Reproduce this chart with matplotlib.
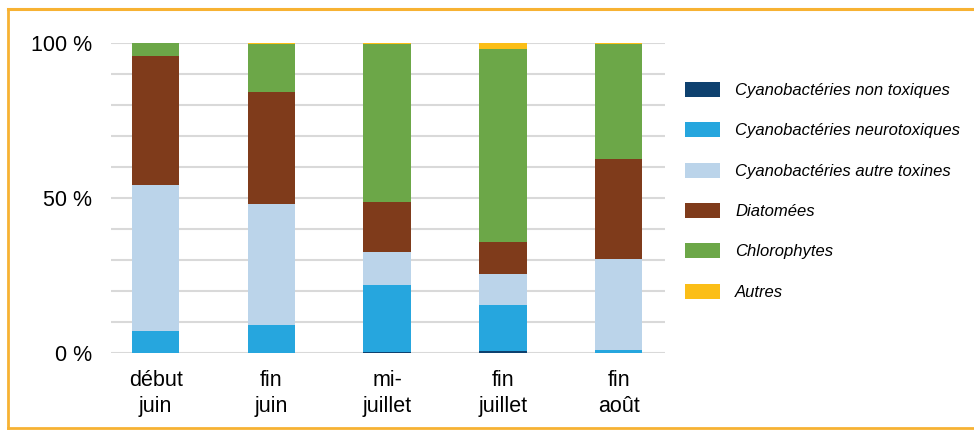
import matplotlib
matplotlib.use("Agg")
import matplotlib.pyplot as plt
import numpy as np
from matplotlib.patches import Patch
from matplotlib.lines import Line2D

plt.rcParams["font.family"] = ["Liberation Sans", "DejaVu Sans"]

# periods (x categories)
periods = ["début\njuin", "fin\njuin", "mi-\njuillet", "fin\njuillet", "fin\naoût"]

# share of each group (%)
cyano_non_tox = [0.0, 0.0, 0.3, 0.8, 0.0]
cyano_neuro = [7.2, 8.9, 21.5, 14.7, 0.9]
cyano_autre = [46.9, 39.3, 10.8, 10.0, 29.5]
diatomees = [41.6, 36.0, 16.1, 10.3, 32.2]
chlorophytes = [4.3, 15.4, 51.0, 62.3, 37.0]
autres = [0.0, 0.4, 0.3, 1.9, 0.4]

series = [
    ("Cyanobactéries non toxiques", cyano_non_tox, "#0E416F"),
    ("Cyanobactéries neurotoxiques", cyano_neuro, "#26A6DE"),
    ("Cyanobactéries autre toxines", cyano_autre, "#BBD4EA"),
    ("Diatomées", diatomees, "#7F3B1B"),
    ("Chlorophytes", chlorophytes, "#6CA748"),
    ("Autres", autres, "#FBBE17"),
]

fig = plt.figure(figsize=(9.74, 4.30), dpi=100)
ax = fig.add_axes([111 / 974, 1 - 353 / 430, (665 - 111) / 974, (353 - 43) / 430])

x = np.arange(len(periods))
bottom = np.zeros(len(periods))
for label, vals, color in series:
    ax.bar(x, vals, width=0.41, bottom=bottom, color=color, label=label, zorder=2)
    bottom += np.array(vals)

ax.set_xlim(-0.385, 4.4)
ax.set_ylim(0, 100)
ax.set_yticks(np.arange(0, 101, 10))
ax.set_yticklabels(["0 %" if v == 0 else "50 %" if v == 50 else "100 %" if v == 100 else ""
                    for v in range(0, 101, 10)])
ax.set_xticks(x)
ax.set_xticklabels(periods, linespacing=1.35)
ax.tick_params(axis="y", length=0, pad=13.5, labelsize=15.5)
ax.tick_params(axis="x", length=0, pad=12, labelsize=15.5)
ax.grid(axis="y", color="#D9D9D9", linewidth=1.5, zorder=0)
ax.set_axisbelow(True)
for s in ["top", "right", "left", "bottom"]:
    ax.spines[s].set_visible(False)

handles = [Patch(facecolor=c, edgecolor="none", label=l) for l, _, c in series]
fig.legend(handles=handles, loc="upper left", bbox_to_anchor=(685 / 974, 1 - 82 / 430),
           frameon=False, prop={"size": 12, "style": "italic"},
           handlelength=2.1, handleheight=1.0, handletextpad=0.9, labelspacing=1.45,
           borderaxespad=0, borderpad=0)

# orange frame (open on the right)
frame_col = "#F7B233"
fig.add_artist(Line2D([7.5 / 974, 1.0], [1 - 9 / 430] * 2, color=frame_col, lw=2.2,
                      transform=fig.transFigure))
fig.add_artist(Line2D([7.5 / 974] * 2, [1 - 9 / 430, 1 - 428 / 430], color=frame_col, lw=2.0,
                      transform=fig.transFigure))
fig.add_artist(Line2D([7.5 / 974, 1.0], [1 - 428 / 430] * 2, color=frame_col, lw=2.0,
                      transform=fig.transFigure))

fig.savefig("out.png", dpi=100)
